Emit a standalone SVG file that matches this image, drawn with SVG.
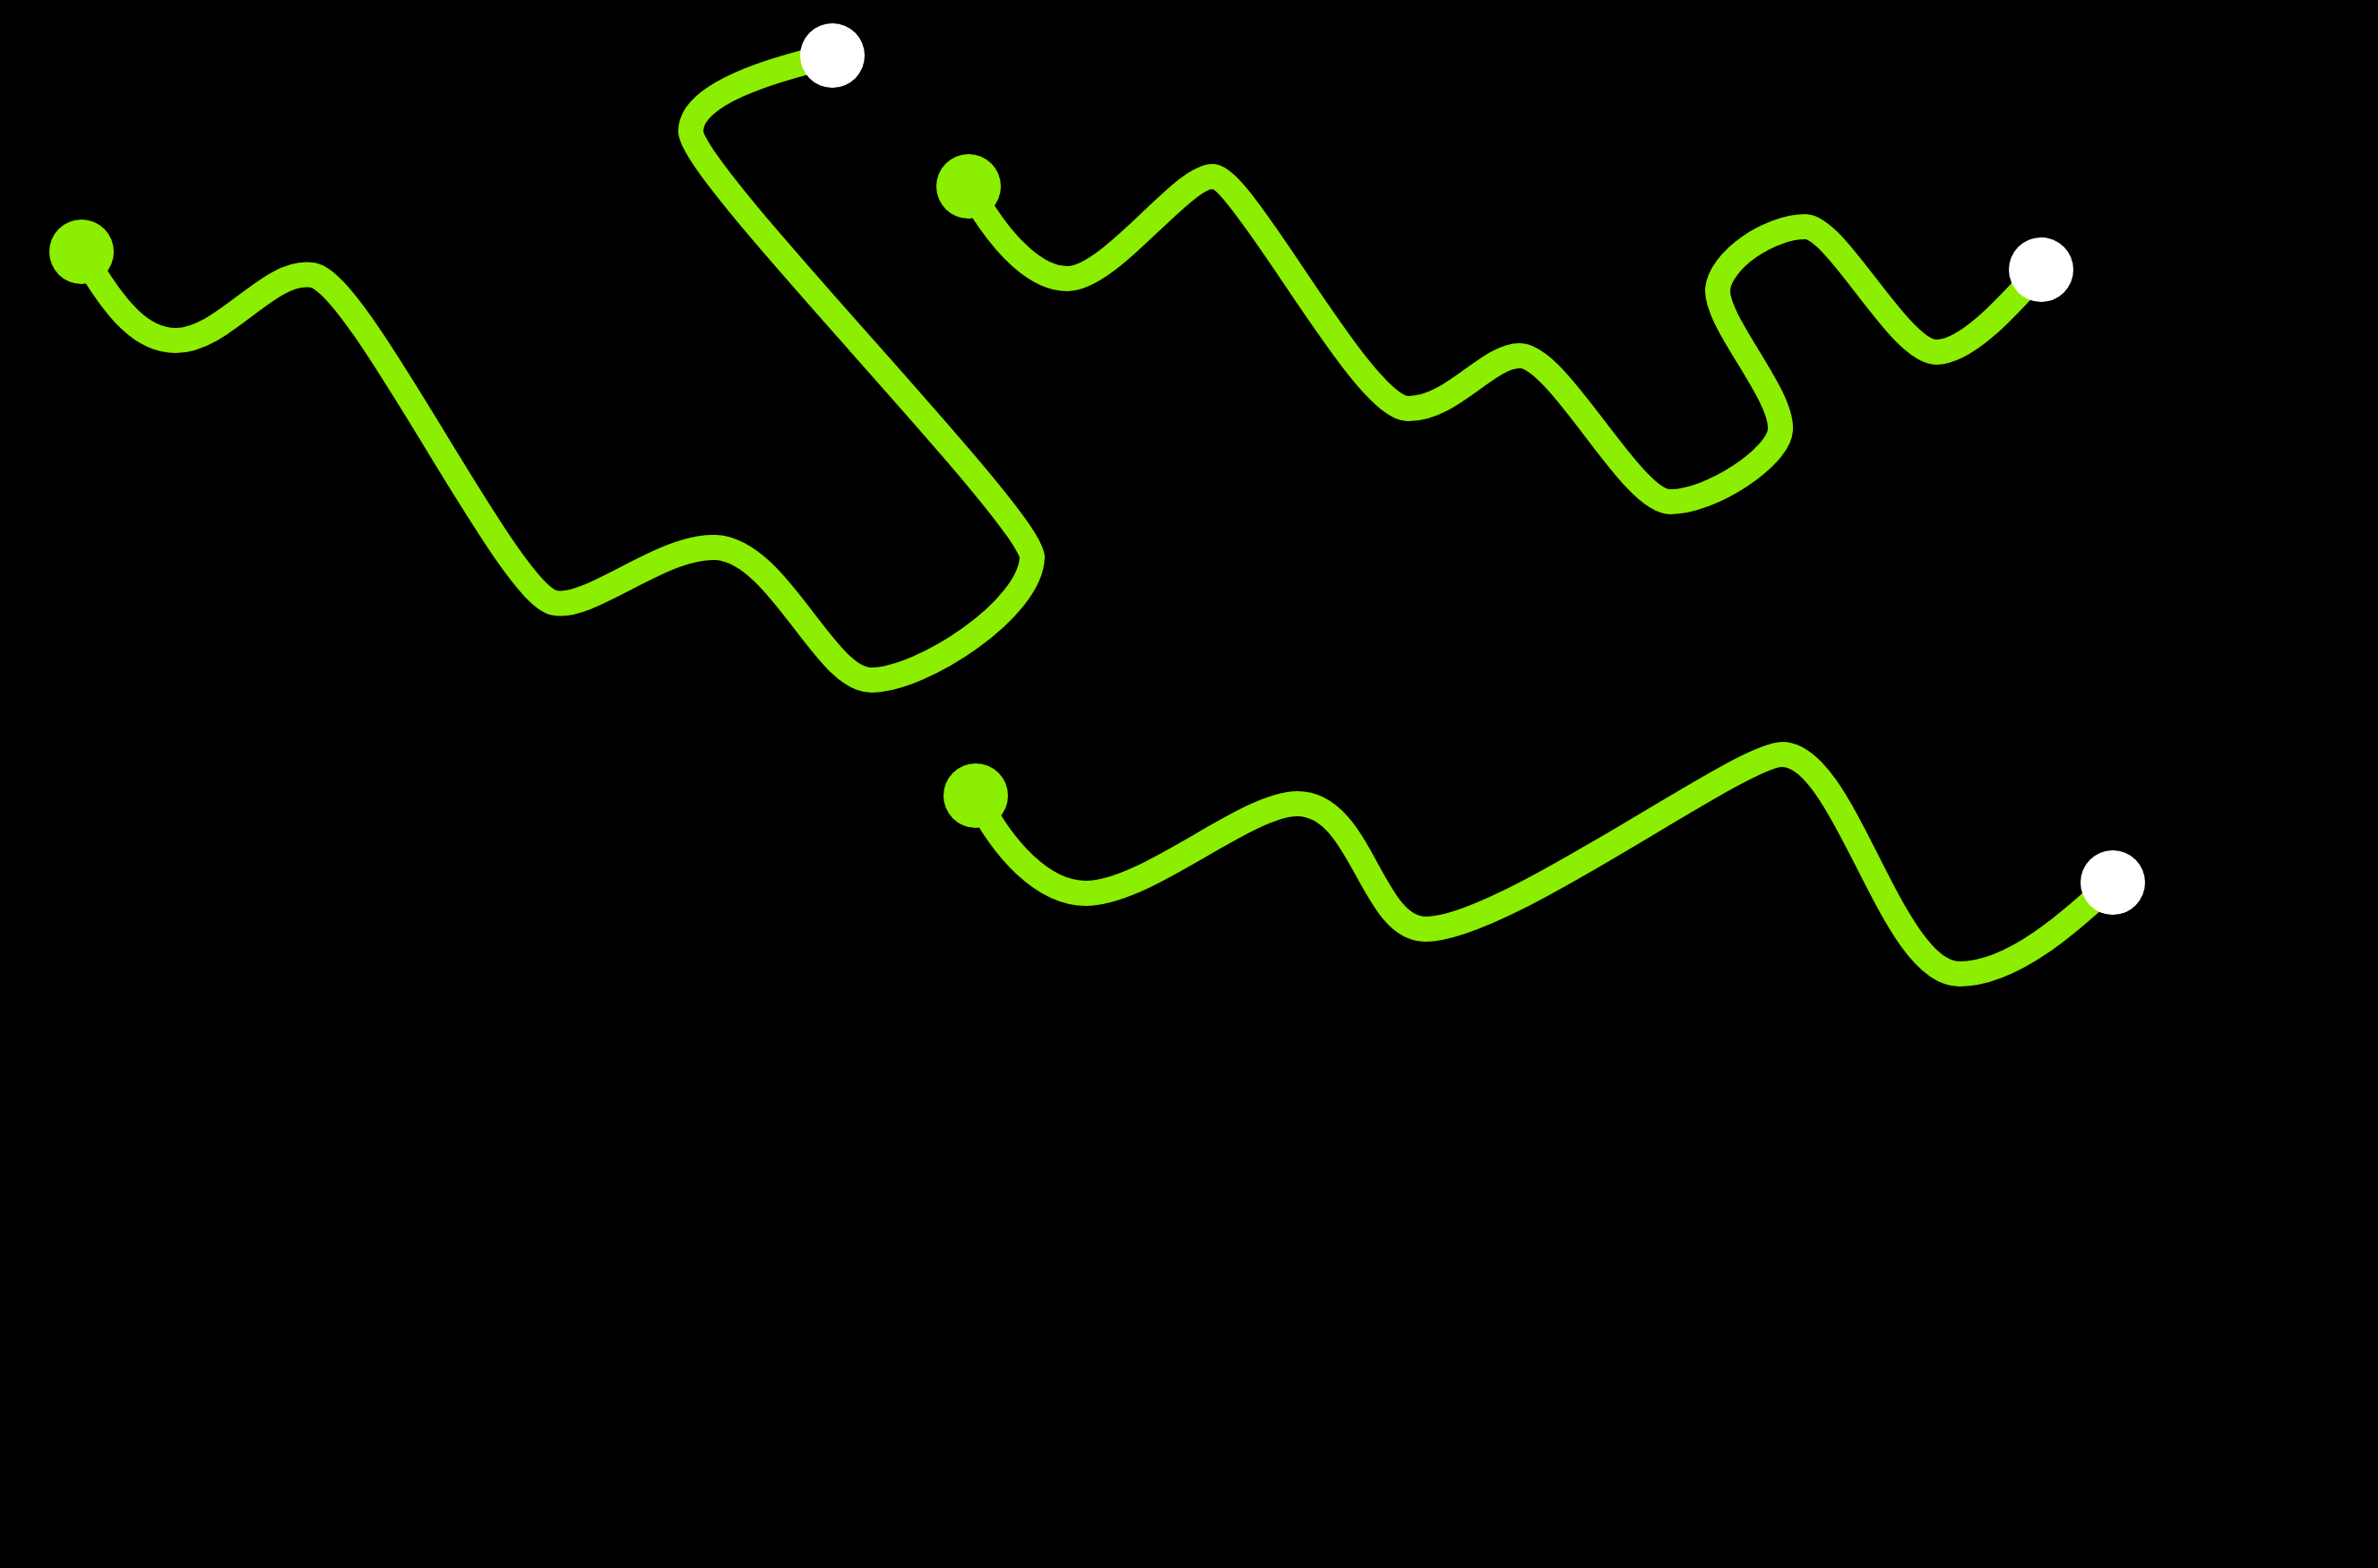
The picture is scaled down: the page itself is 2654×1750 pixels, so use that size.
<svg xmlns="http://www.w3.org/2000/svg" width="2654" height="1750" viewBox="0 0 2654 1750">
<style>
.wire{fill:none;stroke:#8cee00;stroke-width:28;stroke-linecap:round;stroke-linejoin:round}
.start{fill:#8cee00}
.end{fill:#ffffff}
</style>
<rect x="0" y="0" width="2654" height="1750" fill="#000000"/>
<g id="connectors">
<path class="wire" d="M91,281 C130,350 160,380 196,380 C250,380 300,300 348,307 C400,310 570,670 620,673 C660,680 740,608 799,611 C870,615 920,760 973,759 C1030,758 1150,680 1152,622 C1150,575 772,195 771,147 C770,105 860,78 929,62"/>
<path class="wire" d="M1081,208 C1120,280 1160,311 1191,311 C1240,311 1320,195 1354,197 C1390,200 1520,455 1571,456 C1620,457 1660,397 1696,397 C1740,397 1820,560 1864,560 C1910,560 1985,510 1987,480 C1990,440 1915,360 1917,323 C1920,290 1975,253 2015,253 C2050,253 2120,393 2161,393 C2200,393 2255,325 2278,301"/>
<path class="wire" d="M1089,888 C1120,950 1165,997 1212,997 C1280,997 1390,897 1448,897 C1520,897 1530,1037 1591,1037 C1680,1037 1940,842 1989,842 C2060,842 2110,1087 2187,1087 C2250,1087 2320,1020 2358,985"/>
</g>
<g id="start1"><circle class="start" cx="91" cy="281" r="36"/></g>
<g id="end1"><circle class="end" cx="929" cy="62" r="36"/></g>
<g id="start2"><circle class="start" cx="1081" cy="208" r="36"/></g>
<g id="end2"><circle class="end" cx="2278" cy="301" r="36"/></g>
<g id="start3"><circle class="start" cx="1089" cy="888" r="36"/></g>
<g id="end3"><circle class="end" cx="2358" cy="985" r="36"/></g>
</svg>
